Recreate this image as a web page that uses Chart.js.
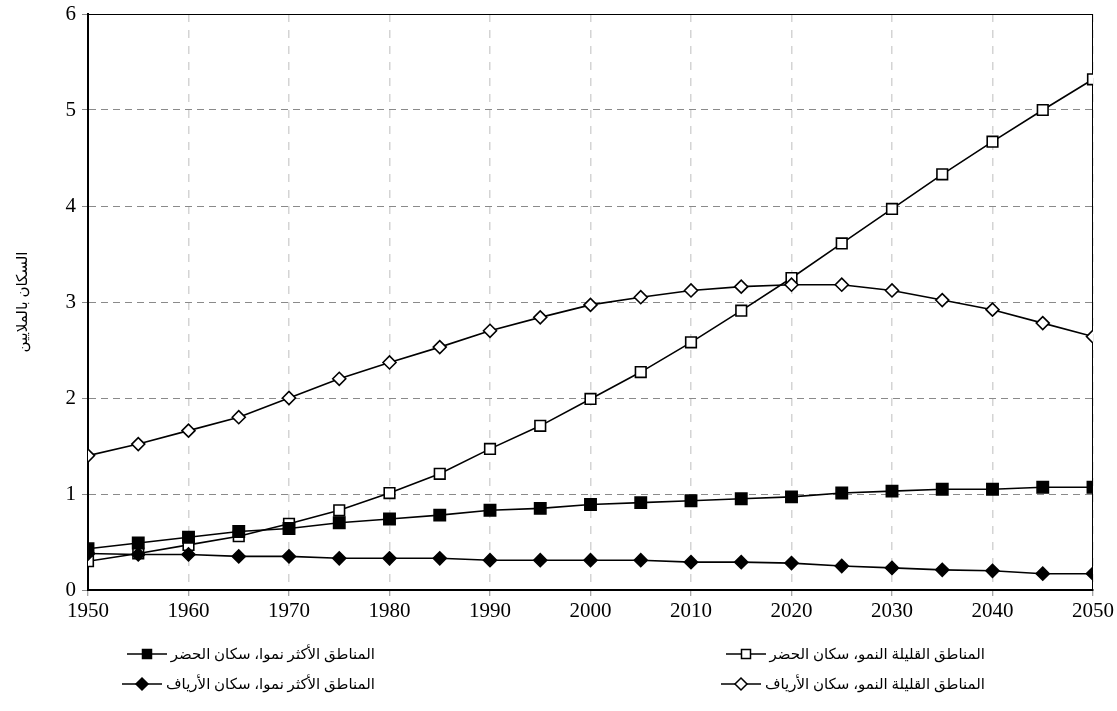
<!DOCTYPE html>
<html>
<head>
<meta charset="utf-8">
<script src="https://cdn.jsdelivr.net/npm/chart.js@4.4.1/dist/chart.umd.min.js"></script>
<style>
  body { margin: 0; background: #fff; }
  #wrap { position: relative; width: 1117px; height: 711px; }
  .leg { position: absolute; display: flex; align-items: center; white-space: nowrap;
         font: 15px "Liberation Serif", "DejaVu Sans", serif; color: #000; }
  .leg svg { margin-right: 4px; }
</style>
</head>
<body>
<div id="wrap">
  <canvas id="chart" width="1117" height="711"></canvas>
</div>
<script>
// years 1950..2050 every 5 years
const years = [1950, 1955, 1960, 1965, 1970, 1975, 1980, 1985, 1990, 1995, 2000,
               2005, 2010, 2015, 2020, 2025, 2030, 2035, 2040, 2045, 2050];

// less developed regions, urban (open squares)
const devingUrban = [0.30, 0.38, 0.47, 0.56, 0.69, 0.83, 1.01, 1.21, 1.47, 1.71, 1.99,
                     2.27, 2.58, 2.91, 3.25, 3.61, 3.97, 4.33, 4.67, 5.00, 5.32];
// less developed regions, rural (open diamonds)
const devingRural = [1.40, 1.52, 1.66, 1.80, 2.00, 2.20, 2.37, 2.53, 2.70, 2.84, 2.97,
                     3.05, 3.12, 3.16, 3.18, 3.18, 3.12, 3.02, 2.92, 2.78, 2.64];
// more developed regions, urban (filled squares)
const devedUrban = [0.43, 0.49, 0.55, 0.61, 0.64, 0.70, 0.74, 0.78, 0.83, 0.85, 0.89,
                    0.91, 0.93, 0.95, 0.97, 1.01, 1.03, 1.05, 1.05, 1.07, 1.07];
// more developed regions, rural (filled diamonds)
const devedRural = [0.38, 0.37, 0.37, 0.35, 0.35, 0.33, 0.33, 0.33, 0.31, 0.31, 0.31,
                    0.31, 0.29, 0.29, 0.28, 0.25, 0.23, 0.21, 0.20, 0.17, 0.17];

const yTitle = 'السكان بالملايين';
const seriesNames = {
  devingUrban: 'المناطق القليلة النمو، سكان الحضر',
  devingRural: 'المناطق القليلة النمو، سكان الأرياف',
  devedUrban: 'المناطق الأكثر نموا، سكان الحضر',
  devedRural: 'المناطق الأكثر نموا، سكان الأرياف'
};

const FONT = '"Liberation Serif", "DejaVu Sans", serif';

function pts(vals) {
  return vals.map((v, i) => ({ x: years[i], y: v }));
}

function ds(label, vals, style, filled, radius) {
  return {
    label: label,
    data: pts(vals),
    borderColor: '#000',
    borderWidth: 1.6,
    pointStyle: style,
    pointRadius: radius,
    pointHoverRadius: radius,
    pointBorderWidth: 1.6,
    pointBorderColor: '#000',
    pointBackgroundColor: filled ? '#000' : '#fff',
    tension: 0
  };
}

const datasets = [
  ds(seriesNames.devedRural, devedRural, 'rectRot', true, 6.5),
  ds(seriesNames.devedUrban, devedUrban, 'rect', true, 8),
  ds(seriesNames.devingRural, devingRural, 'rectRot', false, 6.5),
  ds(seriesNames.devingUrban, devingUrban, 'rect', false, 7.5)
];

// thin frame round the plot area (top and right edges)
const frame = {
  id: 'frame',
  beforeDatasetsDraw(chart) {
    const a = chart.chartArea, c = chart.ctx;
    c.save();
    c.strokeStyle = '#000';
    c.lineWidth = 1;
    c.strokeRect(a.left, a.top + 0.5, a.right - a.left - 0.5, a.bottom - a.top);
    c.restore();
  }
};

new Chart(document.getElementById('chart').getContext('2d'), {
  type: 'line',
  data: { datasets: datasets },
  options: {
    responsive: false,
    animation: false,
    layout: { padding: { top: 14, right: 24, left: 0, bottom: 0 } },
    plugins: { legend: { display: false }, tooltip: { enabled: false } },
    scales: {
      x: {
        type: 'linear',
        min: 1950, max: 2050,
        afterFit: s => { s.height = 121; },
        ticks: { stepSize: 10, color: '#000', padding: 3,
                 font: { family: FONT, size: 21 }, callback: v => String(v) },
        grid: { color: '#d4d4d4', lineWidth: 1.5, tickLength: 6,
                tickColor: '#888', tickBorderDash: [], tickWidth: 1 },
        border: { color: '#000', width: 2, dash: [8, 8] }
      },
      y: {
        min: 0, max: 6,
        afterFit: s => { s.width = 88; s.paddingTop = 0; s.paddingBottom = 0; },
        ticks: { stepSize: 1, color: '#000', padding: 6,
                 font: { family: FONT, size: 21 } },
        grid: { color: '#8a8a8a', lineWidth: 1, tickLength: 6,
                tickColor: '#888', tickBorderDash: [], tickWidth: 1 },
        border: { color: '#000', width: 2, dash: [7, 5] },
        title: { display: true, text: yTitle, color: '#000', padding: { top: 14, bottom: 4 },
                 font: { family: FONT, size: 15 } }
      }
    }
  },
  plugins: [frame]
});

// legend below the chart, two columns, right-aligned Arabic text
const legendItems = [
  { ds: 3, right: 985, top: 645 },
  { ds: 1, right: 375, top: 645 },
  { ds: 2, right: 985, top: 675 },
  { ds: 0, right: 375, top: 675 }
];

function sample(d) {
  const fill = d.pointBackgroundColor;
  let mark;
  if (d.pointStyle === 'rect') {
    mark = '<rect x="15.5" y="3.5" width="9" height="9" fill="' + fill + '" stroke="#000" stroke-width="1.5"/>';
  } else {
    mark = '<polygon points="20,2 26,8 20,14 14,8" fill="' + fill + '" stroke="#000" stroke-width="1.5"/>';
  }
  return '<svg width="40" height="16"><line x1="0" y1="8" x2="40" y2="8" stroke="#000" stroke-width="1.6"/>' + mark + '</svg>';
}

const wrap = document.getElementById('wrap');
legendItems.forEach(it => {
  const d = datasets[it.ds];
  const el = document.createElement('div');
  el.className = 'leg';
  el.style.right = (1117 - it.right) + 'px';
  el.style.top = it.top + 'px';
  el.innerHTML = sample(d) + '<span dir="rtl">' + d.label + '</span>';
  wrap.appendChild(el);
});
</script>
</body>
</html>
